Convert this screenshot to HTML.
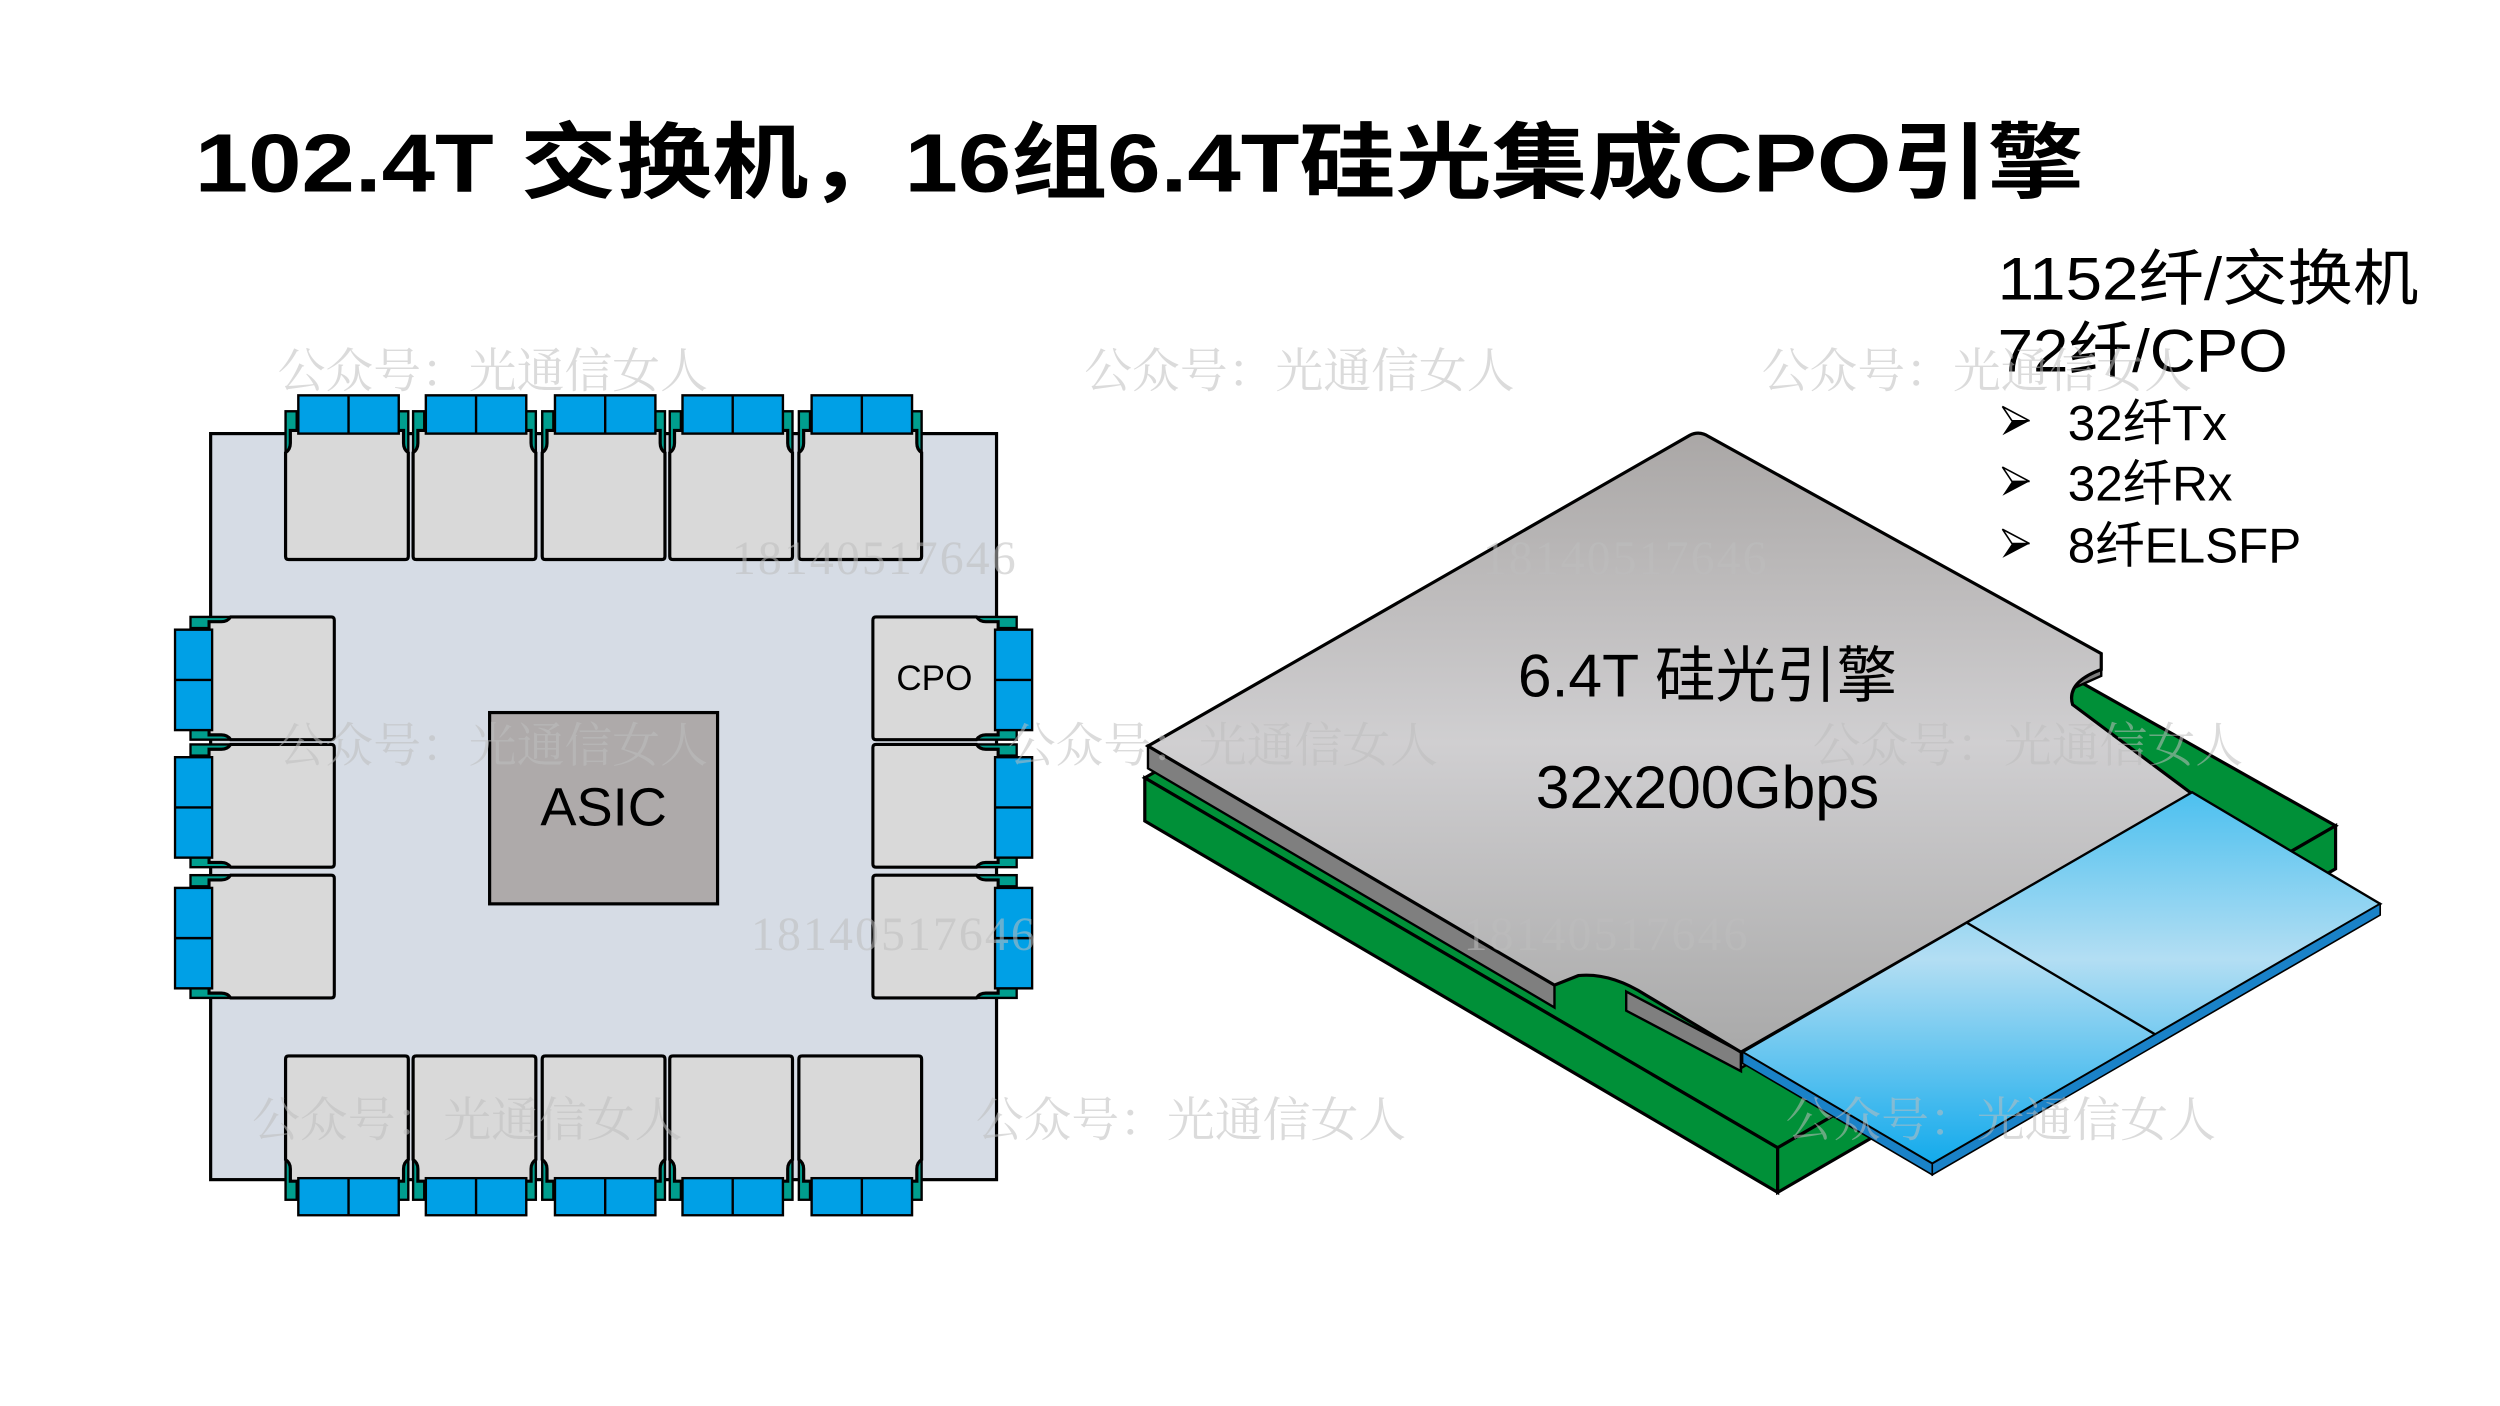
<!DOCTYPE html>
<html><head><meta charset="utf-8"><style>
html,body{margin:0;padding:0;background:#fff;}
svg{display:block;}
</style></head><body>
<svg width="2500" height="1406" viewBox="0 0 1568 882" xmlns="http://www.w3.org/2000/svg" font-family="'Liberation Sans','Noto Sans CJK SC',sans-serif">
<defs>
<g id="mod">
  <rect x="0" y="-12" width="7" height="40" fill="#009e8e" stroke="#000" stroke-width="1.5"/>
  <rect x="70" y="-12" width="7" height="40" fill="#009e8e" stroke="#000" stroke-width="1.5"/>
  <path d="M3,0 H74 V8 Q74,12 77,14 V79 Q77,81 75,81 H2 Q0,81 0,79 V14 Q3,12 3,8 Z" fill="#d9d9d9" stroke="#000" stroke-width="2"/>
  <rect x="8" y="-22" width="63" height="24" fill="#00a0e6" stroke="#000" stroke-width="1.5"/>
  <line x1="39.5" y1="-22" x2="39.5" y2="2" stroke="#000" stroke-width="1.5"/>
</g>
<g id="arr">
  <polygon points="0,0 17,9 0,18 6,9" fill="#000"/>
  <polygon points="0,0 17,9 6,9" fill="#fff" stroke="#000" stroke-width="1"/>
</g>
<linearGradient id="chip" x1="0" y1="0" x2="0" y2="1">
  <stop offset="0" stop-color="#aaa7a6"/><stop offset="0.5" stop-color="#d0cfd1"/><stop offset="1" stop-color="#a9a9a9"/>
</linearGradient>
<linearGradient id="fib" x1="0" y1="0" x2="0" y2="1">
  <stop offset="0" stop-color="#4cc0ef"/><stop offset="0.45" stop-color="#b3def3"/><stop offset="1" stop-color="#12aaec"/>
</linearGradient>
</defs>

<text x="122" y="120" font-size="52" font-weight="bold" textLength="1185" lengthAdjust="spacingAndGlyphs">102.4T 交换机，16组6.4T硅光集成CPO引擎</text>

<!-- left board -->
<rect x="132" y="272" width="493" height="468" fill="#d6dce5" stroke="#000" stroke-width="2"/>
<rect x="307" y="447" width="143" height="120" fill="#aeaaaa" stroke="#000" stroke-width="2"/>
<text x="378.5" y="518" font-size="34" text-anchor="middle">ASIC</text>

<use href="#mod" transform="translate(179,270)"/>
<use href="#mod" transform="translate(259,270)"/>
<use href="#mod" transform="translate(340,270)"/>
<use href="#mod" transform="translate(420,270)"/>
<use href="#mod" transform="translate(501,270)"/>
<use href="#mod" transform="translate(179,741) scale(1,-0.97)"/>
<use href="#mod" transform="translate(259,741) scale(1,-0.97)"/>
<use href="#mod" transform="translate(340,741) scale(1,-0.97)"/>
<use href="#mod" transform="translate(420,741) scale(1,-0.97)"/>
<use href="#mod" transform="translate(501,741) scale(1,-0.97)"/>
<use href="#mod" transform="matrix(0,1,0.97,0,131,387)"/>
<use href="#mod" transform="matrix(0,1,0.97,0,131,467)"/>
<use href="#mod" transform="matrix(0,1,0.97,0,131,549)"/>
<use href="#mod" transform="matrix(0,1,-0.97,0,626,387)"/>
<use href="#mod" transform="matrix(0,1,-0.97,0,626,467)"/>
<use href="#mod" transform="matrix(0,1,-0.97,0,626,549)"/>
<text x="586" y="433" font-size="22" text-anchor="middle">CPO</text>

<!-- 3D right -->
<polygon points="718,488 1060,290 1465,518 1115,720" fill="#009038" stroke="#000" stroke-width="2"/>
<polygon points="718,488 1115,720 1115,748 718,515" fill="#009038" stroke="#000" stroke-width="2"/>
<polygon points="1115,720 1465,518 1465,545 1115,748" fill="#009038" stroke="#000" stroke-width="2"/>
<polygon points="720,468 975,618 975,632 720,482" fill="#7f7f7f" stroke="#000" stroke-width="1.5"/>
<polygon points="1020,622 1092,660 1092,672 1020,634" fill="#7f7f7f" stroke="#000" stroke-width="1.5"/>
<polygon points="1092,660 1375,498 1375,508 1092,670" fill="#8a8a8a" stroke="#000" stroke-width="1.5"/>
<polygon points="1300,432 1318,424 1318,412 1300,425" fill="#7f7f7f" stroke="#000" stroke-width="1.5"/>
<path d="M720,468 L1060,273 Q1066,270 1072,274 L1318,410 L1318,420 Q1296,428 1300,442 L1375,498 L1092,660 L1032,624 Q1010,610 990,612 L975,618 Z" fill="url(#chip)" stroke="#000" stroke-width="2"/>
<polygon points="1093,660 1375,497 1493,567 1212,730" fill="url(#fib)" stroke="#000" stroke-width="1.5"/>
<polygon points="1093,660 1212,730 1212,737 1093,667" fill="#1a82c8" stroke="#000" stroke-width="1"/>
<polygon points="1212,730 1493,567 1493,574 1212,737" fill="#1a82c8" stroke="#000" stroke-width="1"/>
<line x1="1234" y1="579" x2="1352" y2="649" stroke="#000" stroke-width="1.5"/>
<text x="1071" y="437" font-size="38" text-anchor="middle">6.4T 硅光引擎</text>
<text x="1071" y="507" font-size="38" text-anchor="middle">32x200Gbps</text>

<!-- right text -->
<text x="1253" y="188" font-size="38" textLength="264" lengthAdjust="spacingAndGlyphs">1152纤/交换机</text>
<text x="1253" y="233" font-size="38" textLength="182" lengthAdjust="spacingAndGlyphs">72纤/CPO</text>
<use href="#arr" transform="translate(1256,255)"/>
<use href="#arr" transform="translate(1256,293)"/>
<use href="#arr" transform="translate(1256,332)"/>
<g font-size="31">
<text x="1297" y="276">32纤Tx</text>
<text x="1297" y="314">32纤Rx</text>
<text x="1297" y="353">8纤ELSFP</text>
</g>

<g fill="#bdbdbd" fill-opacity="0.55" font-size="30" font-family="'Liberation Serif','Noto Serif CJK SC',serif">
<text x="174" y="243">公众号：光通信女人</text>
<text x="680" y="243">公众号：光通信女人</text>
<text x="1105" y="243">公众号：光通信女人</text>
<text x="174" y="478">公众号：光通信女人</text>
<text x="632" y="478">公众号：光通信女人</text>
<text x="1137" y="478">公众号：光通信女人</text>
<text x="158" y="713">公众号：光通信女人</text>
<text x="612" y="713">公众号：光通信女人</text>
<text x="1120" y="713">公众号：光通信女人</text>
<text x="459" y="360" textLength="178">18140517646</text>
<text x="930" y="360" textLength="178">18140517646</text>
<text x="471" y="596" textLength="178">18140517646</text>
<text x="918" y="596" textLength="178">18140517646</text>
</g>
</svg>
</body></html>
